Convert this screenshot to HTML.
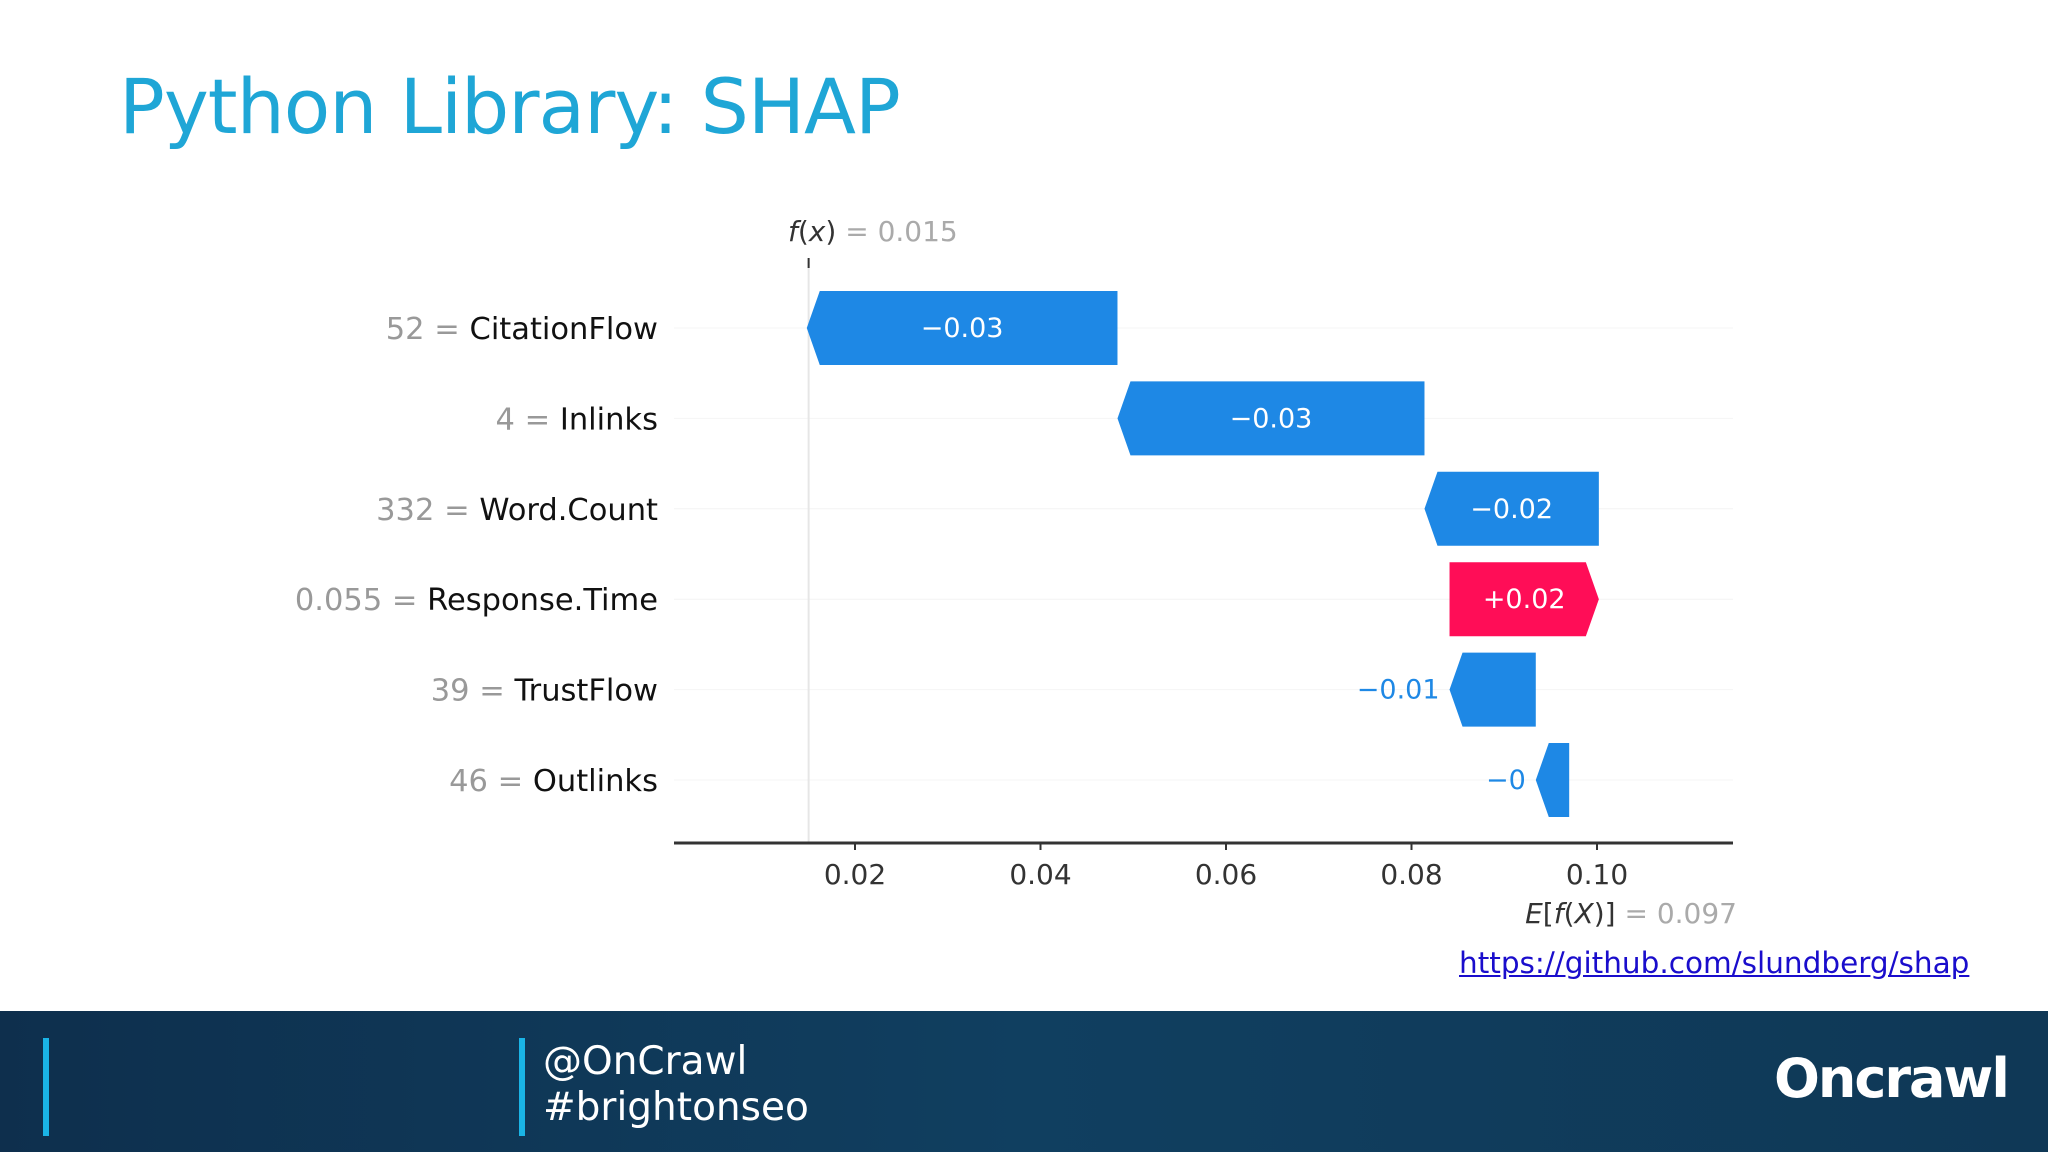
<!DOCTYPE html>
<html><head><meta charset="utf-8"><style>
html,body{margin:0;padding:0;width:2048px;height:1152px;overflow:hidden;background:#fff;font-family:"Liberation Sans","DejaVu Sans",sans-serif}
#title{position:absolute;left:119px;top:62px;font-size:76px;color:#1fa6d6;font-family:"DejaVu Sans","Liberation Sans",sans-serif;letter-spacing:-1px;margin:0;font-weight:normal}
#link{position:absolute;left:1459px;top:946px;font-size:29.5px;color:#1a0dcc;text-decoration:underline;font-family:"DejaVu Sans",sans-serif}
#footer{position:absolute;left:0;top:1011px;width:2048px;height:141px;background:linear-gradient(90deg,#0e2f4d,#103f60 50%,#0f3856)}
.bar{position:absolute;width:6px;background:#1ab4e6}
.ft{position:absolute;color:#fff;font-family:"DejaVu Sans",sans-serif;font-size:39px;line-height:48px}
</style></head><body>
<h1 id="title">Python Library: SHAP</h1>
<svg id="chart" width="2048" height="1011" style="position:absolute;left:0;top:0"></svg>
<a id="link">https://github.com/slundberg/shap</a>
<div id="footer">
<div class="bar" style="left:43px;top:27px;height:98px"></div>
<div class="bar" style="left:519px;top:27px;height:98px"></div>
<div class="ft" style="left:543px;top:27px">@OnCrawl</div>
<div class="ft" style="left:543px;top:73px">#brightonseo</div>
<div class="ft" style="left:1774px;top:44px;font-size:54px;font-weight:bold;letter-spacing:-2px">Oncrawl</div>
</div>
<script>
const features=["CitationFlow","Inlinks","Word.Count","Response.Time","TrustFlow","Outlinks"];
const featureValues=["52","4","332","0.055","39","46"];
const shapValues=[-0.0335,-0.0331,-0.0188,0.0161,-0.0093,-0.0036];
const shapLabels=["\u22120.03","\u22120.03","\u22120.02","+0.02","\u22120.01","\u22120"];
const baseValue=0.097;
const fxValue=0.015;
const ticks=[0.02,0.04,0.06,0.08,0.10];
const tickLabels=["0.02","0.04","0.06","0.08","0.10"];
const NS="http://www.w3.org/2000/svg";
const svg=document.getElementById('chart');
const x=v=>855+(v-0.02)*9275;
const rowY=i=>328+i*90.4;
const BH=74, TIP=13;
function mk(t,a,txt){const e=document.createElementNS(NS,t);for(const k in a)e.setAttribute(k,a[k]);if(txt!==undefined)e.textContent=txt;svg.appendChild(e);return e;}
features.forEach((f,i)=>{const g=mk('line',{x1:674,x2:1733,y1:rowY(i),y2:rowY(i),stroke:'#f4f4f4','stroke-width':1});

});
const vl=mk('line',{x1:x(fxValue),x2:x(fxValue),y1:262,y2:842,stroke:'#e6e6e6','stroke-width':2});


const vt=mk('line',{x1:x(fxValue),x2:x(fxValue),y1:258,y2:268,stroke:'#333','stroke-width':2});


let cur=baseValue;
const ends=[];
for(let i=features.length-1;i>=0;i--){const s=cur,e=cur+shapValues[i];ends[i]=[s,e];cur=e;}
features.forEach((f,i)=>{
 const [s,e]=ends[i];const y=rowY(i);const xs=x(s),xe=x(e);const pos=shapValues[i]>0;
 const t=Math.min(TIP,Math.abs(xe-xs));
 let pts;
 if(pos){pts=[[xs,y-BH/2],[xe-t,y-BH/2],[xe,y],[xe-t,y+BH/2],[xs,y+BH/2]];}
 else{pts=[[xs,y-BH/2],[xe+t,y-BH/2],[xe,y],[xe+t,y+BH/2],[xs,y+BH/2]];}
 const p=mk('polygon',{points:pts.map(q=>q.join(',')).join(' '),fill:pos?'#ff0d57':'#1e88e5'});
 
 
 const w=Math.abs(xe-xs);
 let lbl;
 if(w>110){lbl=mk('text',{x:(xs+xe)/2,y:y+9,'text-anchor':'middle',fill:'#fff','font-size':27,'font-family':'DejaVu Sans,sans-serif'},shapLabels[i]);}
 else{lbl=mk('text',{x:Math.min(xs,xe)-10,y:y+9,'text-anchor':'end',fill:'#1e88e5','font-size':27,'font-family':'DejaVu Sans,sans-serif'},shapLabels[i]);}
 
 
 const fl=mk('text',{x:658,y:y+11,'text-anchor':'end','font-size':30.5,'font-family':'DejaVu Sans,sans-serif',fill:'#111'});
 
 
 const a=document.createElementNS(NS,'tspan');a.setAttribute('fill','#999');a.textContent=featureValues[i]+' = ';fl.appendChild(a);
 const b=document.createElementNS(NS,'tspan');b.textContent=f;fl.appendChild(b);
});
const ax=mk('line',{x1:674,x2:1733,y1:843,y2:843,stroke:'#333','stroke-width':3});


ticks.forEach((v,i)=>{
 const tl=mk('line',{x1:x(v),x2:x(v),y1:843,y2:850,stroke:'#333','stroke-width':2});
 
 
 const tt=mk('text',{x:x(v),y:884,'text-anchor':'middle','font-size':28,fill:'#333','font-family':'DejaVu Sans,sans-serif'},tickLabels[i]);
 
 
});
const fx=mk('text',{x:788,y:241,'font-size':28,'font-family':'DejaVu Sans,sans-serif',fill:'#333'});


fx.innerHTML='<tspan font-style="italic">f</tspan>(<tspan font-style="italic">x</tspan>) <tspan fill="#aaa">= '+fxValue+'</tspan>';
const ef=mk('text',{x:1737,y:923,'text-anchor':'end','font-size':28,'font-family':'DejaVu Sans,sans-serif',fill:'#333'});


ef.innerHTML='<tspan font-style="italic">E</tspan>[<tspan font-style="italic">f</tspan>(<tspan font-style="italic">X</tspan>)] <tspan fill="#aaa">= '+baseValue+'</tspan>';
</script>
</body></html>
